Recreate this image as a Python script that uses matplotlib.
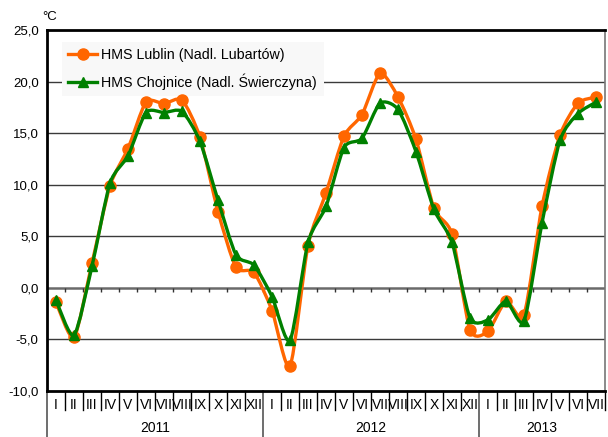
import matplotlib
matplotlib.use("Agg")
import matplotlib.pyplot as plt
from matplotlib.path import Path
from matplotlib.patches import PathPatch
from matplotlib.lines import Line2D
import matplotlib.transforms as mtrans
import numpy as np

plt.rcParams['font.family'] = ['Liberation Sans', 'DejaVu Sans']

months = ["I", "II", "III", "IV", "V", "VI", "VII", "VIII", "IX", "X", "XI", "XII",
          "I", "II", "III", "IV", "V", "VI", "VII", "VIII", "IX", "X", "XI", "XII",
          "I", "II", "III", "IV", "V", "VI", "VII"]
years = ["2011", "2012", "2013"]
year_spans = [(0, 12), (12, 24), (24, 31)]

lublin = [-1.4, -4.8, 2.4, 9.9, 13.5, 18.0, 17.85, 18.2, 14.6, 7.4, 2.0, 1.5,
          -2.2, -7.6, 4.1, 9.2, 14.7, 16.8, 20.8, 18.5, 14.4, 7.7, 5.2, -4.05,
          -4.2, -1.3, -2.6, 7.9, 14.8, 17.9, 18.5]
chojnice = [-1.2, -4.6, 2.1, 10.15, 12.8, 17.0, 17.0, 17.1, 14.2, 8.5, 3.2, 2.2,
            -0.85, -5.1, 4.4, 7.9, 13.6, 14.5, 17.9, 17.3, 13.2, 7.6, 4.4, -2.9,
            -3.1, -1.3, -3.2, 6.3, 14.3, 16.9, 18.0]

series_names = ["HMS Lublin (Nadl. Lubartów)", "HMS Chojnice (Nadl. Świerczyna)"]
colors = ["#FF6600", "#008000"]
markers = ["o", "^"]
yticks = [-10, -5, 0, 5, 10, 15, 20, 25]

fig = plt.figure(figsize=(6.08, 4.37), dpi=100)
ax = fig.add_axes([47/608, 1-391/437, 558/608, 361/437])
ax.set_xlim(0, len(months))
ax.set_ylim(-10, 25)

x = np.arange(len(months)) + 0.5


def smooth_path(xs, ys, k=0.12):
    pts = np.column_stack([xs, ys])
    n = len(pts)
    verts = [pts[0]]
    codes = [Path.MOVETO]
    for i in range(n - 1):
        p0 = pts[i - 1] if i > 0 else pts[i]
        p1 = pts[i]
        p2 = pts[i + 1]
        p3 = pts[i + 2] if i + 2 < n else pts[i + 1]
        c1 = p1 + (p2 - p0) * k
        c2 = p2 - (p3 - p1) * k
        verts += [c1, c2, p2]
        codes += [Path.CURVE4] * 3
    return Path(verts, codes)


for vals, col, mk, z in [(lublin, colors[0], markers[0], 3), (chojnice, colors[1], markers[1], 4)]:
    patch = PathPatch(smooth_path(x, vals), facecolor='none', edgecolor=col,
                      lw=2.4, zorder=z, capstyle='round', joinstyle='round')
    ax.add_patch(patch)
    ax.plot(x, vals, linestyle='none', marker=mk, color=col,
            markersize=8 if mk == 'o' else 7.8, zorder=z)

# grid
for yv in yticks:
    if yv in (-10, 25):
        continue
    if yv == 0:
        ax.axhline(0, color='#6a6a6a', lw=1.8, zorder=1)
    else:
        ax.axhline(yv, color='#3a3a3a', lw=1.0, zorder=1)

# small ticks on zero line
ax.vlines(np.arange(1, len(months)), -0.45, 0, color='#333333', lw=1.0, zorder=1)

ax.set_yticks(yticks)
ax.set_yticklabels([f"{v:.1f}".replace('.', ',') for v in yticks], fontsize=9.5)
ax.tick_params(axis='y', length=0, pad=6)

ax.set_xticks(x)
ax.set_xticklabels(months, fontsize=10)
ax.tick_params(axis='x', length=0, pad=5)

for s in ['left', 'top', 'bottom']:
    ax.spines[s].set_color('black')
    ax.spines[s].set_linewidth(2.0)
ax.spines['right'].set_color('#777777')
ax.spines['right'].set_linewidth(1.2)

# category separators below axis
trans = mtrans.blended_transform_factory(ax.transData, ax.transAxes)
mon_bottom = -19/361
year_bottom = -47/361
for i in range(1, len(months) + 1):
    if i in (12, 24):
        continue
    ax.add_line(Line2D([i, i], [0, mon_bottom], transform=trans, color='black',
                       lw=1.0, clip_on=False))
for i in (0, 12, 24):
    ax.add_line(Line2D([i, i], [0, year_bottom], transform=trans, color='#555555',
                       lw=1.2, clip_on=False))

for name, (a, b) in zip(years, year_spans):
    ax.text((a + b) / 2, -37/361, name, transform=trans, ha='center', va='center',
            fontsize=10)

fig.text(42/608, 1-17/437, "°C", fontsize=9.5, ha='left', va='center')

handles = [Line2D([], [], color=colors[0], marker=markers[0], lw=2.4, markersize=8),
           Line2D([], [], color=colors[1], marker=markers[1], lw=2.4, markersize=7.8)]
leg = ax.legend(handles, series_names, loc='upper left',
                bbox_to_anchor=(62/608, 1-42/437), bbox_transform=fig.transFigure,
                fontsize=10.3, frameon=True, fancybox=False, facecolor='#f8f8f8',
                edgecolor='none', framealpha=1, handlelength=2.0, handletextpad=0.3,
                labelspacing=0.75, borderpad=0.45, borderaxespad=0)
leg.set_zorder(2)

fig.savefig("out.png", dpi=100)
